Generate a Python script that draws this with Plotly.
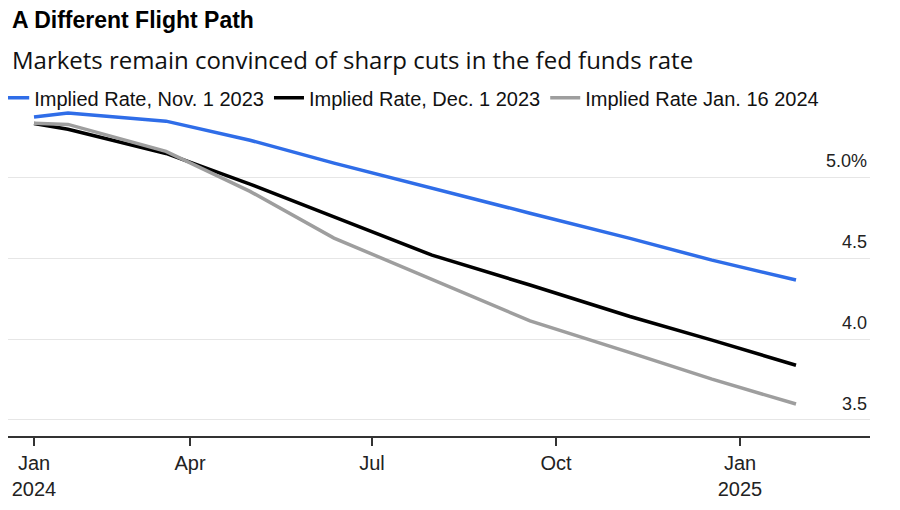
import plotly.graph_objects as go

dates = ["2024-01-14", "2024-01-31", "2024-03-20", "2024-05-01", "2024-06-12",
         "2024-07-31", "2024-09-18", "2024-11-07", "2024-12-18", "2025-01-29"]
implied_nov1 = [5.376, 5.40, 5.35, 5.232, 5.09, 4.933, 4.78, 4.624, 4.489, 4.366]
implied_dec1 = [5.335, 5.30, 5.15, 4.96, 4.757, 4.52, 4.335, 4.14, 3.994, 3.838]
implied_jan16 = [5.337, 5.33, 5.163, 4.915, 4.626, 4.37, 4.113, 3.916, 3.752, 3.598]

series_names = ["Implied Rate, Nov. 1 2023", "Implied Rate, Dec. 1 2023", "Implied Rate Jan. 16 2024"]
series_colors = ["#2f6de8", "#000000", "#9e9e9e"]

x_tickvals = ["2024-01-14", "2024-04-01", "2024-07-01", "2024-10-01", "2025-01-01"]
x_ticktext = ["Jan<br>2024", "Apr", "Jul", "Oct", "Jan<br>2025"]
y_tickvals = [3.5, 4.0, 4.5, 5.0]
y_ticktext = ["3.5", "4.0", "4.5", "5.0%"]

title = "A Different Flight Path"
subtitle = "Markets remain convinced of sharp cuts in the fed funds rate"

fig = go.Figure()
for name, vals, col in zip(series_names, [implied_nov1, implied_dec1, implied_jan16], series_colors):
    fig.add_trace(go.Scatter(x=dates, y=vals, mode="lines", name=name,
                             line=dict(color=col, width=3.5)))

FONT = "Liberation Sans, Arial, sans-serif"
fig.update_layout(
    width=900, height=510,
    margin=dict(l=0, r=38, t=97, b=82, autoexpand=False),
    paper_bgcolor="white", plot_bgcolor="white",
    font=dict(family=FONT, color="#222"),
    hovermode=False,
    showlegend=True,
    legend=dict(orientation="h", x=-0.016, xanchor="left", y=1.081, yanchor="top",
                font=dict(size=20, color="#111"), itemwidth=30, traceorder="normal",
                bgcolor="rgba(0,0,0,0)"),
    xaxis=dict(type="date", range=["2024-01-01", "2025-03-07"],
               tickvals=x_tickvals, ticktext=x_ticktext,
               showgrid=False, showline=True, linecolor="#333", linewidth=1.5,
               ticks="outside", ticklen=8, tickcolor="#333", tickwidth=1.5,
               tickfont=dict(size=20, color="#222"),
               zeroline=False, automargin=False),
    yaxis=dict(range=[3.40, 5.45], side="right", tickvals=y_tickvals, ticktext=y_ticktext,
               ticklabelposition="inside top", ticklabelshift=-4,
               showgrid=True, gridcolor="#e6e6e6", gridwidth=1,
               zeroline=False, showline=False, ticks="", automargin=False,
               tickfont=dict(size=18, color="#222")),
    annotations=[
        dict(text="<b>" + title + "</b>", xref="paper", yref="paper", x=0.002, y=1.257,
             xanchor="left", yanchor="middle", showarrow=False,
             font=dict(size=23, color="#000", family=FONT)),
        dict(text=subtitle, xref="paper", yref="paper", x=0.002, y=1.136,
             xanchor="left", yanchor="middle", showarrow=False,
             font=dict(size=24, color="#111", family="Open Sans, " + FONT)),
    ],
)

fig.write_html("out.html")
